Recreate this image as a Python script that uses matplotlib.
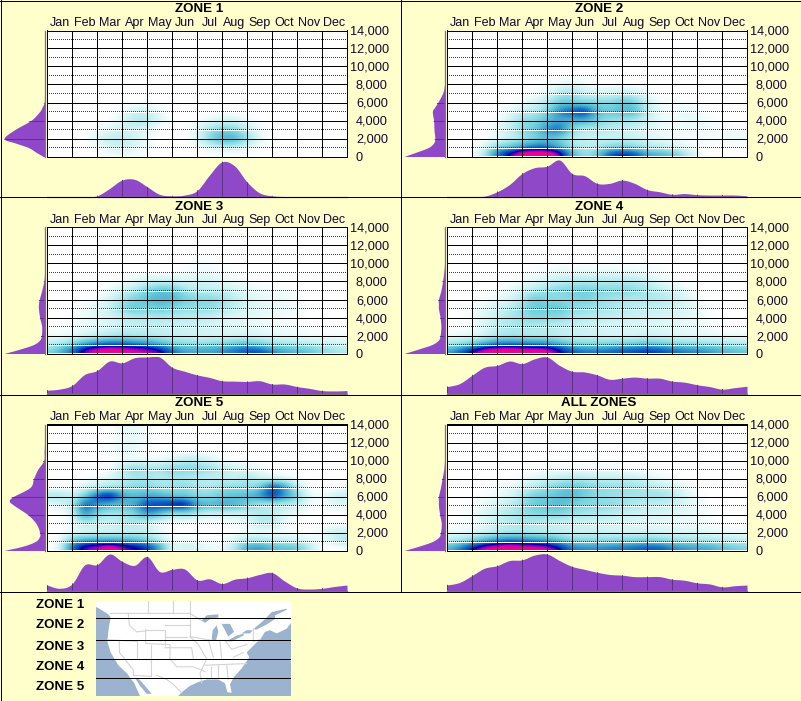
import numpy as np
import matplotlib
matplotlib.use("Agg")
import matplotlib.pyplot as plt
from matplotlib.colors import LinearSegmentedColormap
from matplotlib.lines import Line2D
from matplotlib.patches import Polygon, Rectangle

plt.rcParams['font.family'] = ['Liberation Sans', 'DejaVu Sans']

W, H = 801, 701
MONTHS = ['Jan', 'Feb', 'Mar', 'Apr', 'May', 'Jun', 'Jul', 'Aug', 'Sep', 'Oct', 'Nov', 'Dec']
TICKS = [0, 2000, 4000, 6000, 8000, 10000, 12000, 14000]
MINOR = [1000, 3000, 5000, 7000, 9000, 11000, 13000]
TITLES = ['ZONE 1', 'ZONE 2', 'ZONE 3', 'ZONE 4', 'ZONE 5', 'ALL ZONES']
X_NODES = [i / 2 for i in range(25)]
ALT_NODES = [0, 500, 1000, 2000, 3000, 4000, 5000, 6000, 7000, 8000, 9000, 10000, 11000, 12000]
LEFT_NODES = [0, 500, 1000, 1500, 2000, 3000, 4000, 5000, 5500, 6000, 7000, 8000, 9000, 10000, 11000, 12000, 14000]

Z0 = [0] * 25
HEAT_1 = [
 [0,0,0,0,0,3,4,3,0,0,0,0,0,0,0,0,0,0,0,0,0,0,0,0,0],
 [0,0,0,0,0,5,8,5,0,0,0,0,0,3,4,4,2,0,0,0,0,0,0,0,0],
 [0,0,0,0,2,10,14,10,3,0,0,0,2,10,18,18,8,2,0,0,0,0,0,0,0],
 [0,0,0,0,8,16,16,10,3,0,0,0,6,30,46,46,26,6,0,0,0,0,0,0,0],
 [0,0,0,0,2,6,12,12,8,0,0,0,6,22,32,30,15,3,0,0,0,0,0,0,0],
 [0,0,0,0,0,0,8,20,20,8,0,0,0,5,10,10,3,0,0,0,0,0,0,0,0],
 [0,0,0,0,0,0,3,12,12,4,0,0,0,0,0,0,0,0,0,0,0,0,0,0,0],
 Z0, Z0, Z0, Z0, Z0, Z0, Z0]
HEAT_2 = [
 [0,0,0,18,62,80,98,98,98,90,45,25,35,70,78,72,50,45,40,25,5,0,0,0,0],
 [0,0,0,14,58,74,90,92,92,82,40,22,30,58,66,58,40,36,30,18,3,0,0,0,0],
 [0,0,0,7,30,38,52,62,62,46,24,18,20,30,34,30,20,16,12,6,0,0,0,0,0],
 [0,0,0,0,6,12,22,32,40,35,18,12,12,12,14,12,8,5,3,3,3,3,3,5,4],
 [0,0,0,0,5,14,30,35,55,66,30,18,20,18,14,12,8,4,3,3,4,3,2,3,2],
 [0,0,0,0,2,10,28,30,40,50,45,50,35,25,25,22,12,5,3,5,6,2,0,0,0],
 [0,0,0,0,0,4,15,18,30,58,66,78,40,38,42,45,18,5,3,6,4,0,0,0,0],
 [0,0,0,0,0,0,3,8,18,38,35,30,30,28,38,35,12,3,2,2,0,0,0,0,0],
 [0,0,0,0,0,0,0,2,5,18,25,12,10,10,15,12,3,0,0,0,0,0,0,0,0],
 [0,0,0,0,0,0,0,0,0,5,8,3,0,0,0,0,0,0,0,0,0,0,0,0,0],
 Z0, Z0, Z0, Z0]
HEAT_3 = [
 [30,45,60,85,95,100,95,92,90,85,65,50,50,50,55,60,68,72,60,50,45,40,30,25,20],
 [24,36,58,80,88,92,90,86,84,74,56,44,44,46,50,58,64,60,46,40,36,34,26,20,16],
 [16,20,32,50,60,66,66,60,56,46,34,28,26,28,30,36,40,34,26,24,20,18,14,12,10],
 [3,3,5,8,14,18,22,20,18,16,14,12,11,11,10,10,10,8,6,5,4,3,3,3,2],
 [0,0,2,4,6,8,12,14,14,14,12,12,11,10,8,6,6,4,3,3,2,0,0,0,0],
 [0,0,2,4,7,10,15,22,20,22,20,18,18,16,10,8,6,5,3,3,2,0,0,0,0],
 [0,0,0,3,7,12,28,38,32,38,32,26,28,28,22,15,10,7,5,5,3,0,0,0,0],
 [0,0,0,0,4,8,22,32,40,45,45,35,30,30,25,16,10,6,5,5,2,0,0,0,0],
 [0,0,0,0,0,3,10,18,30,38,38,22,16,15,14,10,6,3,3,2,0,0,0,0,0],
 [0,0,0,0,0,0,2,5,10,12,12,8,10,10,6,3,2,0,0,0,0,0,0,0,0],
 [0,0,0,0,0,0,0,0,0,0,0,2,4,4,2,0,0,0,0,0,0,0,0,0,0],
 [0,0,0,0,0,0,0,0,0,0,0,0,2,2,0,0,0,0,0,0,0,0,0,0,0],
 Z0, Z0]
HEAT_4 = [
 [50,65,82,95,96,100,94,96,96,80,68,62,62,65,68,70,75,72,65,60,58,55,45,42,38],
 [40,52,70,86,90,92,88,88,88,74,58,52,52,56,60,62,66,62,56,52,50,46,40,36,32],
 [22,26,36,50,60,62,60,58,56,46,34,30,30,32,33,36,40,36,32,28,26,24,22,20,18],
 [4,4,6,10,18,22,20,18,18,16,12,12,12,10,10,10,11,10,8,7,6,5,5,4,3],
 [0,0,3,8,16,20,22,20,18,16,14,12,10,9,9,8,8,7,6,5,4,2,0,0,0],
 [0,0,4,8,15,22,26,32,30,30,22,20,18,16,14,12,12,10,9,7,5,2,0,0,0],
 [0,0,2,6,10,16,26,38,36,40,28,26,24,22,18,16,15,14,12,9,5,0,0,0,0],
 [0,0,0,2,5,8,18,38,30,28,30,35,28,24,22,20,22,20,16,10,3,0,0,0,0],
 [0,0,0,0,2,4,10,18,24,30,32,35,30,30,30,28,22,15,10,5,0,0,0,0,0],
 [0,0,0,0,0,0,3,6,10,15,18,18,18,18,18,18,12,6,3,0,0,0,0,0,0],
 [0,0,0,0,0,0,0,2,4,5,6,5,5,5,5,5,4,2,0,0,0,0,0,0,0],
 Z0, Z0, Z0]
HEAT_5 = [
 [0,4,65,85,88,100,88,78,75,50,5,12,10,5,3,18,50,55,42,40,40,18,0,0,0],
 [0,3,62,80,84,92,82,76,70,48,5,12,9,4,2,18,44,48,38,36,34,16,0,3,8],
 [0,2,40,52,52,54,50,46,36,22,3,5,3,2,2,10,22,22,18,14,12,7,3,14,22],
 [0,0,4,8,10,10,12,14,14,4,0,0,0,0,0,0,2,3,2,2,0,0,3,14,12],
 [0,0,3,22,14,12,18,22,12,5,0,0,0,0,0,3,6,18,20,5,0,0,0,0,0],
 [0,0,5,62,28,22,22,30,55,42,22,30,18,12,12,12,10,20,18,8,3,0,0,0,0],
 [3,10,15,72,52,45,40,48,72,72,78,84,50,42,48,45,35,22,18,18,16,3,0,8,6],
 [20,22,12,32,66,85,50,40,48,45,38,38,30,28,38,40,42,50,76,54,32,5,3,12,15],
 [0,0,0,10,15,20,22,28,30,22,22,28,20,20,25,28,25,30,72,50,15,0,0,0,2],
 [0,0,0,0,3,8,15,22,22,18,22,22,18,15,16,12,22,12,6,6,0,0,0,0,0],
 [0,0,0,0,0,0,18,30,22,22,30,30,30,25,18,10,8,3,0,0,0,0,0,0,0],
 [0,0,0,0,0,0,2,4,3,3,8,15,15,8,2,0,0,0,0,0,0,0,0,0,0],
 [0,0,0,0,0,3,8,6,0,0,0,0,0,0,0,0,0,0,0,0,0,0,0,0,0],
 [0,0,0,0,0,0,5,6,2,0,0,0,0,0,0,0,0,0,0,0,0,0,0,0,0]]
HEAT_ALL = [
 [45,60,80,92,96,100,96,96,94,82,60,58,58,60,62,65,68,68,60,55,50,50,42,38,32],
 [34,48,68,84,88,92,88,86,84,70,52,48,48,50,54,56,60,60,50,46,44,42,34,30,26],
 [18,24,34,50,58,66,62,58,54,44,32,30,30,30,32,34,36,32,28,26,24,22,20,18,14],
 [4,4,6,10,16,20,20,18,16,14,12,12,12,11,10,10,10,9,8,7,6,5,5,4,3],
 [0,0,3,7,14,18,22,20,16,14,12,12,11,10,9,8,7,6,5,5,4,2,0,0,0],
 [0,0,4,8,14,20,24,30,30,32,24,22,20,18,14,12,10,10,8,6,4,2,0,0,0],
 [0,0,2,6,10,15,26,38,38,44,34,30,30,28,24,20,16,16,12,9,5,0,0,0,0],
 [0,0,0,2,5,8,20,35,35,40,44,35,28,26,24,22,24,26,20,10,3,0,0,0,0],
 [0,0,0,0,2,4,10,18,26,34,38,34,28,26,26,24,20,15,10,5,0,0,0,0,0],
 [0,0,0,0,0,0,3,6,10,14,18,16,14,14,14,14,8,4,2,0,0,0,0,0,0],
 [0,0,0,0,0,0,0,0,2,3,3,3,3,3,2,0,0,0,0,0,0,0,0,0,0],
 Z0, Z0, Z0]
HEATS = [HEAT_1, HEAT_2, HEAT_3, HEAT_4, HEAT_5, HEAT_ALL]

BOTTOM_1 = [0,0,0,0,2,22,45,47,27,6,2,4,16,59,95,84,40,10,2,0,0,0,0,0,0]
BOTTOM_2 = [0,0,0,1,13,33,63,79,83,100,63,57,36,36,45,36,19,13,6,8,5,4,4,4,2]
BOTTOM_3 = [9,12,22,52,63,89,84,98,100,100,72,61,51,44,35,34,33,35,26,26,19,14,8,7,8]
BOTTOM_4 = [19,27,50,72,77,89,82,95,100,77,61,59,51,39,42,45,42,42,34,31,24,19,12,16,20]
BOTTOM_5 = [15,6,18,70,71,100,80,69,93,52,58,59,29,32,19,31,35,44,49,26,7,4,6,11,15]
BOTTOM_ALL = [15,22,41,61,68,82,84,97,100,82,66,58,50,44,42,38,38,38,31,28,21,18,10,13,15]
BOTTOMS = [BOTTOM_1, BOTTOM_2, BOTTOM_3, BOTTOM_4, BOTTOM_5, BOTTOM_ALL]

LEFT_1 = [3,22,40,72,100,73,34,12,6,1,0,0,0,0,0,0,0]
LEFT_2 = [100,69,40,27,24,26,27,30,24,17,5,0,0,0,0,0,0]
LEFT_3 = [100,60,27,12,8,7,12,15,15,13,7,2,0,0,0,0,0]
LEFT_4 = [100,64,31,15,11,9,11,15,15,15,9,5,2,0,0,0,0]
LEFT_5 = [100,52,23,13,12,21,42,75,87,77,36,27,17,2,1,0,0]
LEFT_ALL = [100,62,30,14,10,8,12,15,15,15,10,6,2,0,0,0,0]
LEFTS = [LEFT_1, LEFT_2, LEFT_3, LEFT_4, LEFT_5, LEFT_ALL]

ZONE_LABELS = ['ZONE 1', 'ZONE 2', 'ZONE 3', 'ZONE 4', 'ZONE 5']
LAND = [(18,3),(603,3),(603,72),(590,90),(560,105),(540,95),(525,100),(510,125),(498,135),(470,165),(478,180),
        (455,215),(430,245),(420,265),(425,292),(412,290),(405,262),(385,250),(350,250),(325,258),(300,270),
        (275,290),(265,302),(150,302),(133,262),(112,232),(85,205),(62,165),(52,130),(56,90),(62,55),(55,45),(25,25),(18,22)]
WATER = [[(135,245),(148,250),(165,270),(185,295),(170,295),(150,270)],
         [(492,90),(520,65),(545,38),(590,27),(590,31),(555,48),(555,60),(528,78),(497,94)],
         [(335,65),(350,48),(385,45),(385,55),(360,60),(345,72)],
         [(365,125),(368,95),(380,80),(385,100),(378,127)],
         [(395,75),(420,75),(432,100),(415,115),(405,95)],
         [(408,130),(440,112),(462,105),(460,112),(425,130)],
         [(455,105),(470,95),(488,95),(480,105)]]
BORDERS = [[(175,3),(175,42)],[(250,3),(250,42)],[(300,3),(300,115)],[(62,42),(300,42),(335,65)],
           [(115,42),(118,80),(140,100),(167,97)],[(167,93),(225,93),(225,140)],[(167,93),(167,137),(240,140),(240,185)],
           [(140,130),(140,185),(182,185)],[(182,140),(182,240)],[(182,185),(240,185),(310,185)],[(88,130),(88,165),(130,220),(130,237),(182,240)],
           [(55,125),(140,130)],[(225,80),(300,80)],[(225,115),(290,115)],[(225,150),(305,150),(310,185)],
           [(240,185),(260,210),(310,210),(345,225)],[(200,237),(230,250),(250,265),(275,292)],
           [(300,115),(325,140),(350,185),(330,230),(335,260)],[(355,125),(370,180)],[(345,205),(470,200)],
           [(362,210),(362,250)],[(385,205),(385,250)],[(410,205),(415,250)],[(430,180),(460,165)],
           [(365,127),(405,127),(425,155),(470,140)],[(490,90),(490,130),(510,125)],[(300,115),(365,127)],[(390,130),(395,185)]]
MAP_LINES = [55, 127, 184, 244]

BG = '#FFFFCC'
PURPLE = '#8E48C8'
INK = '#100830'
OCEAN = '#9BB3CF'
HEAT_CMAP = LinearSegmentedColormap.from_list('heat', [
    (0.00, '#FFFFFF'), (0.06, '#E4F9F9'), (0.20, '#B0EAEE'), (0.35, '#70D0DC'), (0.50, '#40A4CC'),
    (0.60, '#1878C8'), (0.70, '#0848C0'), (0.78, '#0000A8'), (0.84, '#7000C8'), (0.90, '#E000A0'), (1.00, '#FF0070')])


def axes_px(x0, y0, x1, y1, **kw):
    return fig.add_axes([x0 / W, 1 - y1 / H, (x1 - x0) / W, (y1 - y0) / H], **kw)


def curve(a, b, n=12):
    """Rounded display path through the read-off nodes."""
    p = np.column_stack([a, b]).astype(float)
    q = np.vstack([p[0], p, p[-1]])
    out = []
    for i in range(1, len(q) - 2):
        for t in np.linspace(0, 1, n, endpoint=False):
            out.append(0.5 * (2 * q[i] + (q[i + 1] - q[i - 1]) * t
                              + (2 * q[i - 1] - 5 * q[i] + 4 * q[i + 1] - q[i + 2]) * t ** 2
                              + (3 * q[i] - q[i - 1] - 3 * q[i + 1] + q[i + 2]) * t ** 3))
    out.append(p[-1])
    return np.array(out)


def heat_image(rows):
    """Puts the read-off rows on an even 500-ft raster for imshow."""
    g = np.array(rows, float)
    alts = np.arange(0, 14001, 500)
    return np.column_stack([np.interp(alts, ALT_NODES, g[:, c]) for c in range(g.shape[1])])


fig = plt.figure(figsize=(W / 100, H / 100), dpi=100, facecolor=BG)
LW = 0.72

for idx, title in enumerate(TITLES):
    ox = 400 * (idx % 2)
    oy = 197 * (idx // 2)

    # main panel
    ax = axes_px(ox + 47.0, oy + 30.5, ox + 347.0, oy + 156.5, facecolor='white')
    ax.imshow(heat_image(HEATS[idx]), origin='lower', extent=(-0.25, 12.25, -250, 14250), aspect='auto',
              interpolation='bicubic', cmap=HEAT_CMAP, vmin=0, vmax=100, zorder=1)
    ax.set_xlim(0, 12)
    ax.set_ylim(0, 14000)
    ax.hlines(MINOR, 0, 12, color='white', lw=LW, zorder=2, antialiased=False)
    dots = ax.hlines(MINOR, 0, 12, color='#404040', lw=LW, linestyles=(0, (1, 1)), zorder=3, capstyle='butt')
    dots.set_snap(False)
    ax.hlines(TICKS, 0, 12, color='black', lw=LW, zorder=4, antialiased=False)
    ax.vlines(range(13), 0, 14000, color='black', lw=LW, zorder=4, antialiased=False)
    for s in ax.spines.values():
        s.set_linewidth(LW)
        s.set_zorder(5)
    ax.xaxis.tick_top()
    ax.set_xticks([m + 0.5 for m in range(12)], MONTHS, fontsize=9, color=INK)
    ax.tick_params(axis='x', length=0, pad=1.0)
    ax.yaxis.tick_right()
    ax.set_yticks(TICKS, [f'{t:,}' for t in TICKS], fontsize=9.2, color=INK)
    ax.tick_params(axis='y', length=0)
    for tick, val in zip(ax.yaxis.get_major_ticks(), TICKS):
        tick.set_pad(2.0 if val >= 10000 else 6.4)

    fig.text((ox + 199) / W, 1 - (oy + 9.5) / H, title, ha='center', va='center',
             fontsize=9.6, fontweight='bold', color='black')

    # bottom marginal
    bx = axes_px(ox + 47.0, oy + 160, ox + 347.0, oy + 196.5)
    bx.patch.set_visible(False)
    pts = curve(X_NODES, BOTTOMS[idx])
    poly = bx.fill_between(pts[:, 0], 0, np.clip(pts[:, 1], 0, None), color=PURPLE, lw=0, zorder=1)
    bx.set_xlim(0, 12)
    bx.set_ylim(0, 100)
    vl = bx.vlines(range(13), 0, 100, color='#5A3480', lw=LW, zorder=2, antialiased=False)
    vl.set_clip_path(poly.get_paths()[0], poly.get_transform())
    bx.axhline(0, color='#807860', lw=LW * 1.3, zorder=3, clip_on=False)
    bx.axis('off')

    # left marginal
    lx = axes_px(ox + 4, oy + 30.5, ox + 44.5, oy + 156.5)
    lx.patch.set_visible(False)
    pts = curve(LEFT_NODES, LEFTS[idx])
    poly = lx.fill_betweenx(pts[:, 0], 0, np.clip(pts[:, 1], 0, None), color=PURPLE, lw=0, zorder=1)
    lx.set_xlim(100, 0)
    lx.set_ylim(0, 14000)
    hl = lx.hlines(TICKS, 0, 100, color='#5A3480', lw=LW, zorder=2, antialiased=False)
    hl.set_clip_path(poly.get_paths()[0], poly.get_transform())
    lx.axvline(0, color='#807860', lw=LW * 1.3, zorder=3, clip_on=False)
    lx.axis('off')


def fline(x0, y0, x1, y1):
    fig.add_artist(Line2D([x0 / W, x1 / W], [1 - y0 / H, 1 - y1 / H], color='black', lw=LW,
                          transform=fig.transFigure, antialiased=False))


for y in (0.5, 197.5, 394.5, 591.5, 700.5):
    fline(0, y, W, y)
for x in (0.5, 800.5):
    fline(x, 0, x, H)
fline(400.5, 0, 400.5, 591.5)

for label, y in zip(ZONE_LABELS, (605.5, 625.5, 647.5, 667, 686.5)):
    fig.text(60 / W, 1 - y / H, label, ha='center', va='center', fontsize=9.6, fontweight='bold', color='black')

mx = axes_px(96, 601, 291, 696)
mx.set_xlim(18, 603)
mx.set_ylim(302, 3)
mx.add_patch(Rectangle((18, 3), 585, 299, color=OCEAN, lw=0))
mx.add_patch(Polygon(LAND, closed=True, color='white', lw=0))
for b in BORDERS:
    xs, ys = zip(*b)
    mx.plot(xs, ys, color='#D4D4D4', lw=0.8, zorder=2)
for w in WATER:
    mx.add_patch(Polygon(w, closed=True, color=OCEAN, lw=0, zorder=3))
mx.hlines(MAP_LINES, 18, 603, color='black', lw=LW, zorder=4, antialiased=False)
mx.axis('off')

fig.savefig('out.png', dpi=100, facecolor=BG)
